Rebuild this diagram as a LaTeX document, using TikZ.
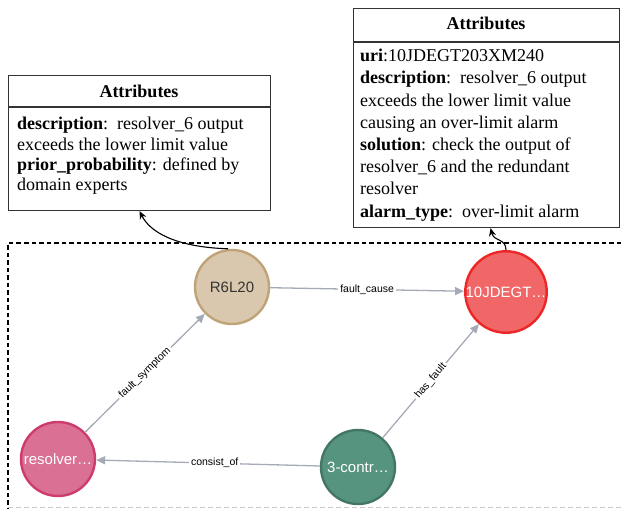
\documentclass[tikz,border=0pt]{standalone}
\usepackage{fontspec}
\setmainfont{Liberation Serif}
\newfontfamily\graphfont{Liberation Sans}
\usetikzlibrary{arrows.meta}

\definecolor{edgegray}{HTML}{A5ABB6}
\definecolor{tanfill}{HTML}{D9C8AE}
\definecolor{tanline}{HTML}{C0A378}
\definecolor{redfill}{HTML}{F16667}
\definecolor{redline}{HTML}{EB2728}
\definecolor{pinkfill}{HTML}{DA7194}
\definecolor{pinkline}{HTML}{CC3C6C}
\definecolor{greenfill}{HTML}{569480}
\definecolor{greenline}{HTML}{447666}
\definecolor{frame2}{HTML}{C8C8C8}

\tikzset{
  attrbox/.style={draw=black!80, line width=1.1pt, anchor=north west, inner sep=0pt},
  attrhead/.style={font=\fontsize{18}{20}\selectfont\bfseries},
  attrbody/.style={anchor=north west, align=left, inner sep=0pt},
  entity/.style={circle, line width=2.4pt, minimum size=74pt, inner sep=0pt,
    font=\graphfont\fontsize{15}{17}\selectfont},
  rel/.style={draw=edgegray, line width=1.3pt, -{Triangle[length=9pt,width=8pt]}},
  rellabel/.style={fill=white, inner sep=2pt, font=\graphfont\fontsize{10.5}{12}\selectfont},
  attrlink/.style={draw=black, line width=1.1pt, -{Stealth[length=8pt,width=7pt]}},
  groupframe/.style={draw=black, line width=1.2pt, dash pattern=on 4.5pt off 3pt},
}

\begin{document}
\begin{tikzpicture}[x=1pt,y=-1pt]
\useasboundingbox (0,0) rectangle (621,509);

% group frame around the graph
\draw[groupframe] (621,243) -- (8,243) -- (8,509);
\draw[draw=frame2, line width=1pt, dash pattern=on 5pt off 3pt] (8,507.5) -- (621,507.5);

% attribute tables
\node[attrbox, minimum width=262pt, minimum height=135pt] (boxL) at (8,75) {};
\draw[black!80, line width=1.1pt] (8,107) -- (270,107);
\node[attrhead] (headL) at (139,91) {Attributes};
\node[attrbody, font=\fontsize{18}{20.4}\selectfont] (bodyL) at (17,117)
  {\textbf{description}:\ \ resolver\_6 output\\
   exceeds the lower limit value\\
   \textbf{prior\_probability}: defined by\\
   domain experts};

\node[attrbox, minimum width=266pt, minimum height=219pt] (boxR) at (353,8) {};
\draw[black!80, line width=1.1pt] (353,42) -- (619,42);
\node[attrhead] (headR) at (486,23) {Attributes};
\node[attrbody, font=\fontsize{18}{22.2}\selectfont] (bodyR) at (360,49)
  {\textbf{uri}:10JDEGT203XM240\\
   \textbf{description}:\ \ resolver\_6 output\\
   exceeds the lower limit value\\
   causing an over-limit alarm\\
   \textbf{solution}: check the output of\\
   resolver\_6 and the redundant\\
   resolver\\
   \textbf{alarm\_type}:\ \ over-limit alarm};

% entities
\node[entity, fill=tanfill, draw=tanline, text=black!80] (r6) at (232,287) {R6L20};
\node[entity, fill=redfill, draw=redline, text=white] (fault) at (506,292) {10JDEGT\ldots};
\node[entity, fill=pinkfill, draw=pinkline, text=white] (res) at (58,459) {resolver\ldots};
\node[entity, fill=greenfill, draw=greenline, text=white] (ctrl) at (358,467) {3-contr\ldots};

% relations
\draw[rel] (r6) -- node[rellabel] {fault\_cause} (fault);
\draw[rel] (res) -- node[rellabel, sloped] {fault\_symptom} (r6);
\draw[rel] (ctrl) -- node[rellabel, sloped] {has\_fault} (fault);
\draw[rel] (ctrl) -- node[rellabel, pos=0.47] {consist\_of} (res);

% links to attribute tables
\draw[attrlink] ([xshift=-4pt]r6.north) .. controls (175,247) and (150,232) .. (boxL.south);
\draw[attrlink] (fault.north) .. controls (506,238) and (494,242) .. ([xshift=4pt]boxR.south);
\end{tikzpicture}
\end{document}
